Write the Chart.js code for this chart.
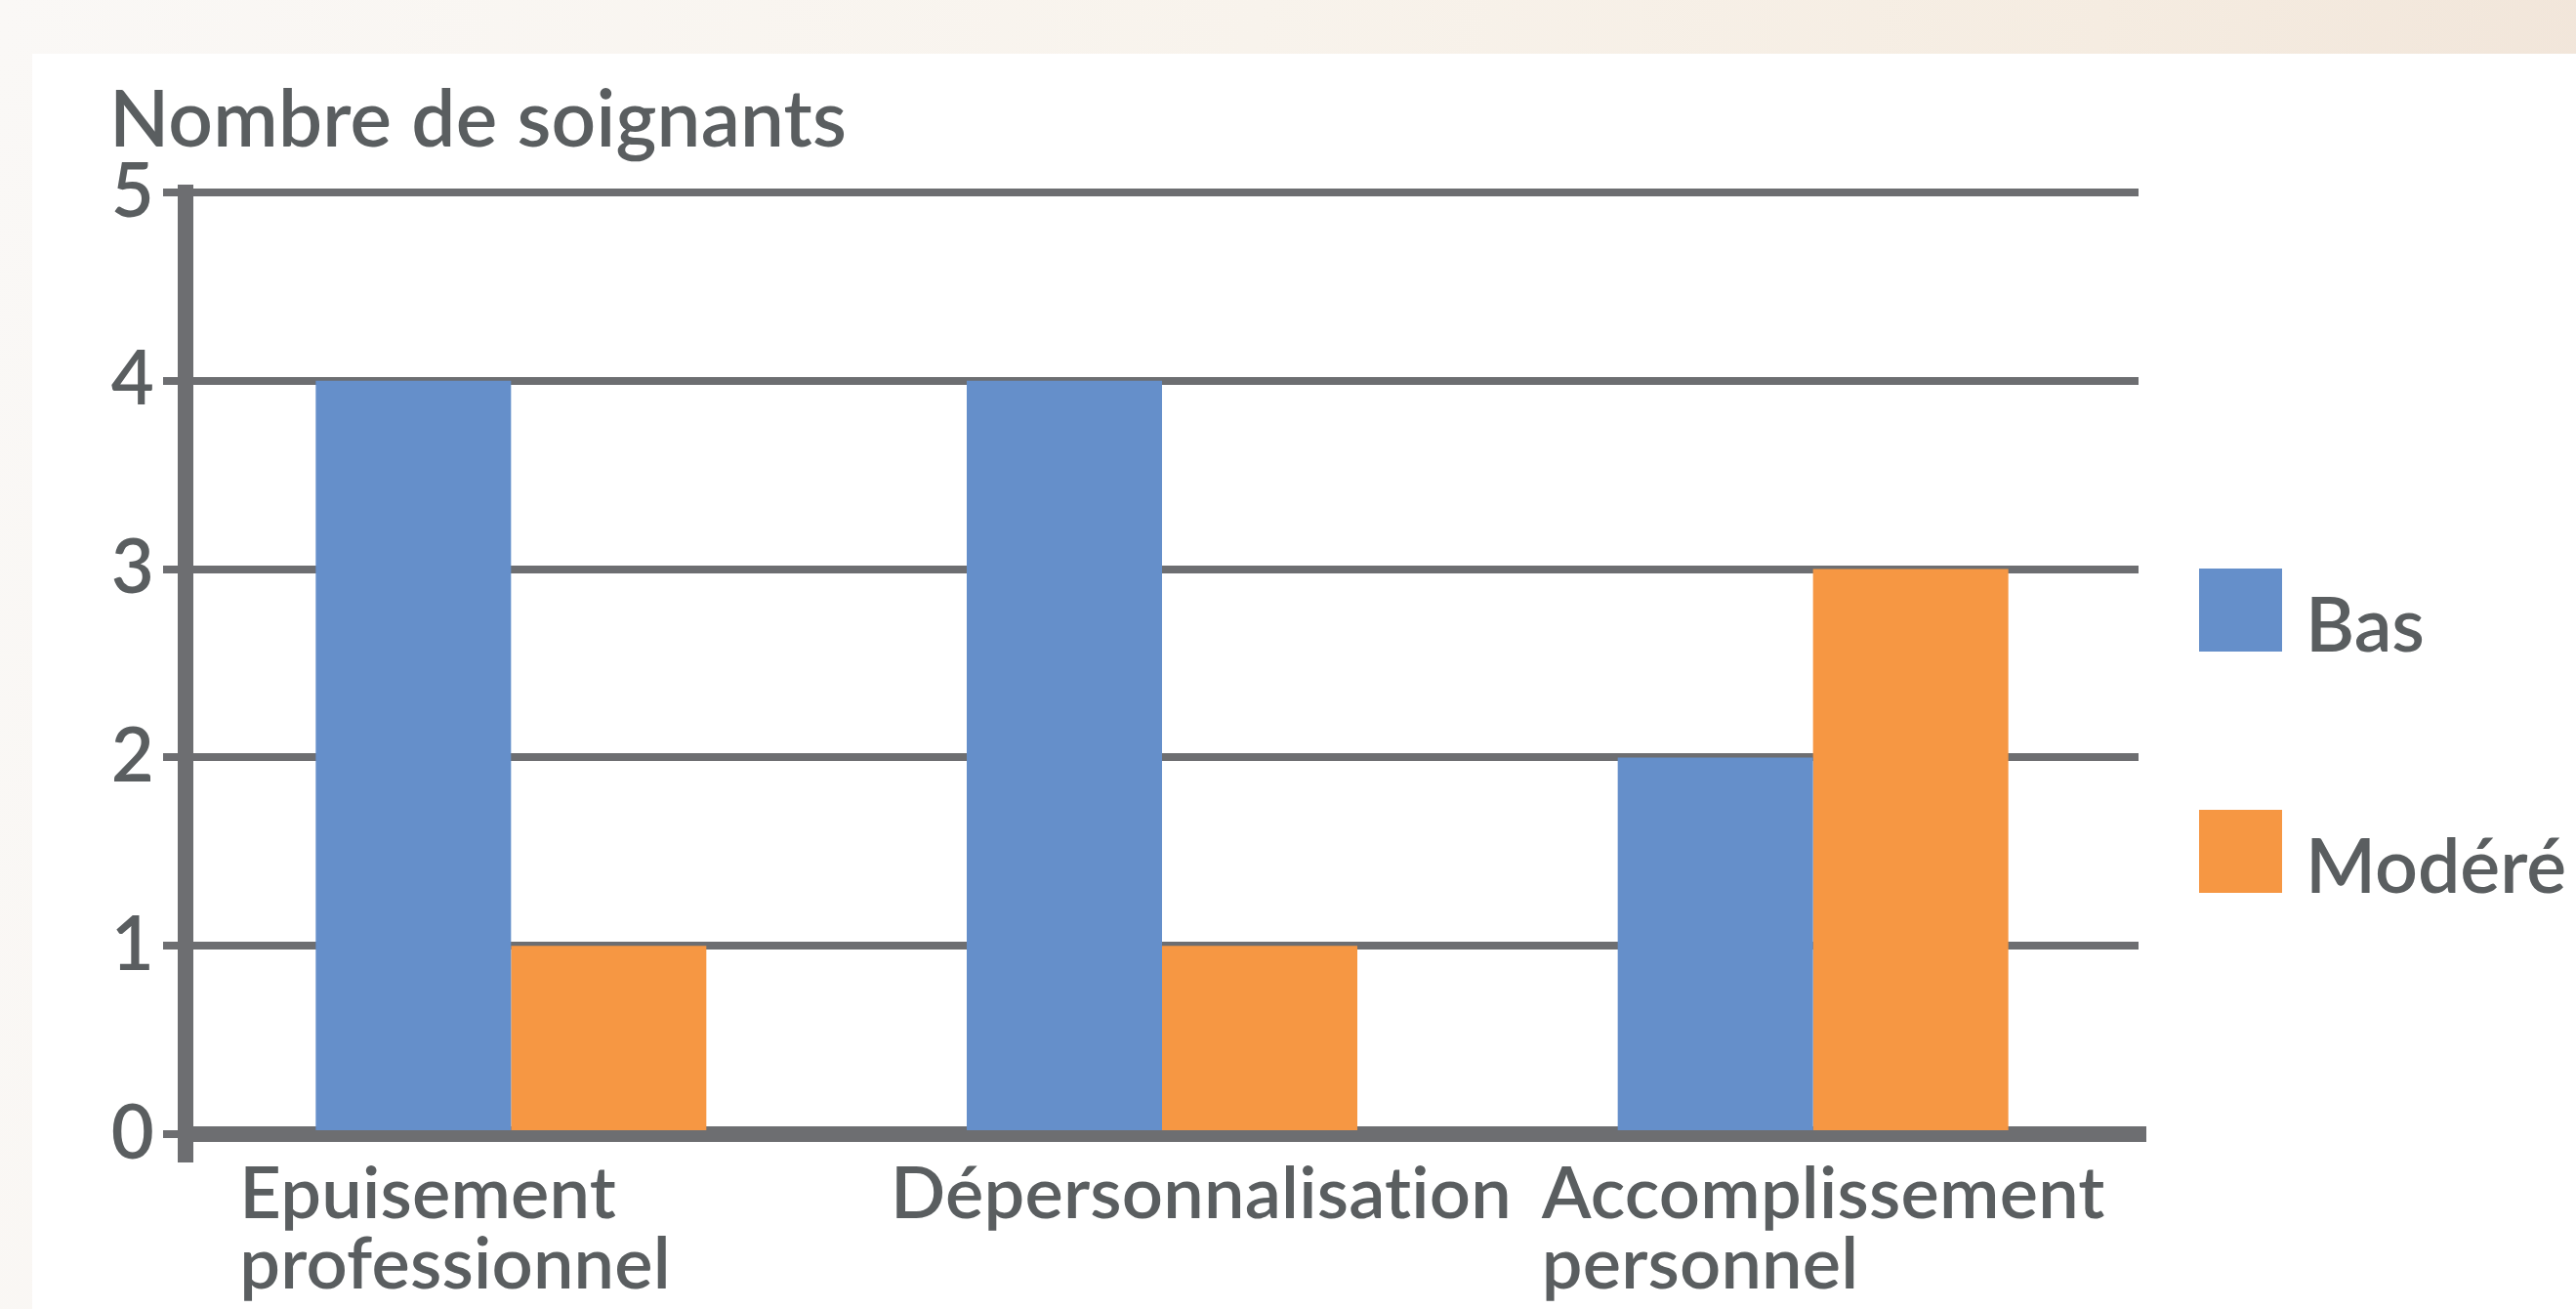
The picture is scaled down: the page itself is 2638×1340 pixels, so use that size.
<!DOCTYPE html>
<html lang="fr">
<head>
<meta charset="utf-8">
<title>Nombre de soignants</title>
<script src="https://cdn.jsdelivr.net/npm/chart.js@4.4.1/dist/chart.umd.min.js"></script>
<style>
  html, body {
    margin: 0;
    padding: 0;
    width: 2638px;
    height: 1340px;
    overflow: hidden;
    background: linear-gradient(100deg, #faf8f6 0%, #f8f3ec 45%, #f5ece1 75%, #f0e3d7 100%);
    font-family: 'Lato', 'Noto Sans', sans-serif;
  }
  #panel {
    position: absolute;
    left: 33px;
    top: 55px;
    right: 0;
    bottom: 0;
    background: #ffffff;
  }
  #wrap {
    position: absolute;
    left: 0;
    top: 0;
    width: 2638px;
    height: 1340px;
  }
  #legend {
    position: absolute;
    left: 2252px;
    top: 582px;
    color: #5a5e60;
    font-size: 77px;
    font-weight: 600;
  }
  #legend .item {
    display: flex;
    align-items: baseline;
    height: 85px;
    margin-bottom: 162px;
  }
  #legend .box {
    width: 85px;
    height: 85px;
    flex: none;
  }
  #legend .label {
    margin-left: 24px;
    line-height: 1;
    white-space: nowrap;
  }
</style>
</head>
<body>
<div id="panel"></div>
<div id="wrap"><canvas id="chart"></canvas></div>
<div id="legend"></div>

<script>
// data
const categories = [['Epuisement', 'professionnel'], 'Dépersonnalisation', ['Accomplissement', 'personnel']];
const seriesNames = ['Bas', 'Modéré'];
const basValues = [4, 4, 2];
const modereValues = [1, 1, 3];
const yTickValues = [0, 1, 2, 3, 4, 5];
const yTitle = 'Nombre de soignants';

const textColor = '#5a5e60';
const axisColor = '#6d6e71';
const blue = '#658fca';
const orange = '#f69743';
const fontFamily = "'Lato', 'Noto Sans', sans-serif";

// tiny letter spacing, stops the "ti" ligature
const spacingPlugin = {
  id: 'spacing',
  beforeDraw: function (chart) {
    chart.ctx.letterSpacing = '0.2px';
  }
};

var chart = new Chart(document.getElementById('chart'), {
  type: 'bar',
  data: {
    labels: categories,
    datasets: [
      { label: seriesNames[0], data: basValues, backgroundColor: blue, borderWidth: 0 },
      { label: seriesNames[1], data: modereValues, backgroundColor: orange, borderWidth: 0 }
    ]
  },
  plugins: [spacingPlugin],
  options: {
    responsive: true,
    maintainAspectRatio: false,
    devicePixelRatio: 1,
    animation: false,
    datasets: {
      bar: { categoryPercentage: 0.6, barPercentage: 1.0 }
    },
    layout: {
      padding: { left: 112, right: 448, top: 0, bottom: 0 }
    },
    plugins: {
      legend: { display: false },
      tooltip: { enabled: false },
      title: {
        display: true,
        text: yTitle,
        align: 'start',
        color: textColor,
        font: { family: fontFamily, size: 80, weight: 600, lineHeight: 1.2 },
        padding: { top: 76, bottom: 25 }
      }
    },
    scales: {
      x: {
        offset: true,
        grid: {
          display: true,
          offset: true,
          drawOnChartArea: false,
          drawTicks: true,
          tickLength: 29,
          // only the first line: the stub of the y axis below zero
          color: ctx => ctx.index === 0 ? axisColor : 'transparent',
          lineWidth: ctx => ctx.index === 0 ? 16 : 0
        },
        border: { display: true, color: axisColor, width: 16 },
        ticks: {
          color: textColor,
          font: { family: fontFamily, size: 74, weight: 600, lineHeight: 0.97 },
          align: 'start',
          labelOffset: -278,
          padding: -3,
          autoSkip: false,
          maxRotation: 0,
          minRotation: 0
        },
        afterFit: function (scale) {
          scale.height = 179;
        }
      },
      y: {
        min: yTickValues[0],
        max: yTickValues[yTickValues.length - 1],
        afterBuildTicks: function (scale) {
          scale.ticks = yTickValues.map(v => ({ value: v }));
        },
        grid: {
          color: axisColor,
          lineWidth: 8,
          drawTicks: true,
          tickLength: 23
        },
        border: { display: true, color: axisColor, width: 16 },
        ticks: {
          color: textColor,
          font: { family: fontFamily, size: 76, weight: 600 },
          padding: 9
        },
        afterFit: function (scale) {
          scale.width = 78;
        }
      }
    }
  }
});

// legend as html, built from the datasets
var legendEl = document.getElementById('legend');
chart.data.datasets.forEach(function (ds) {
  var item = document.createElement('div');
  item.className = 'item';
  var box = document.createElement('div');
  box.className = 'box';
  box.style.background = ds.backgroundColor;
  var label = document.createElement('span');
  label.className = 'label';
  label.textContent = ds.label;
  item.appendChild(box);
  item.appendChild(label);
  legendEl.appendChild(item);
});
</script>
</body>
</html>
